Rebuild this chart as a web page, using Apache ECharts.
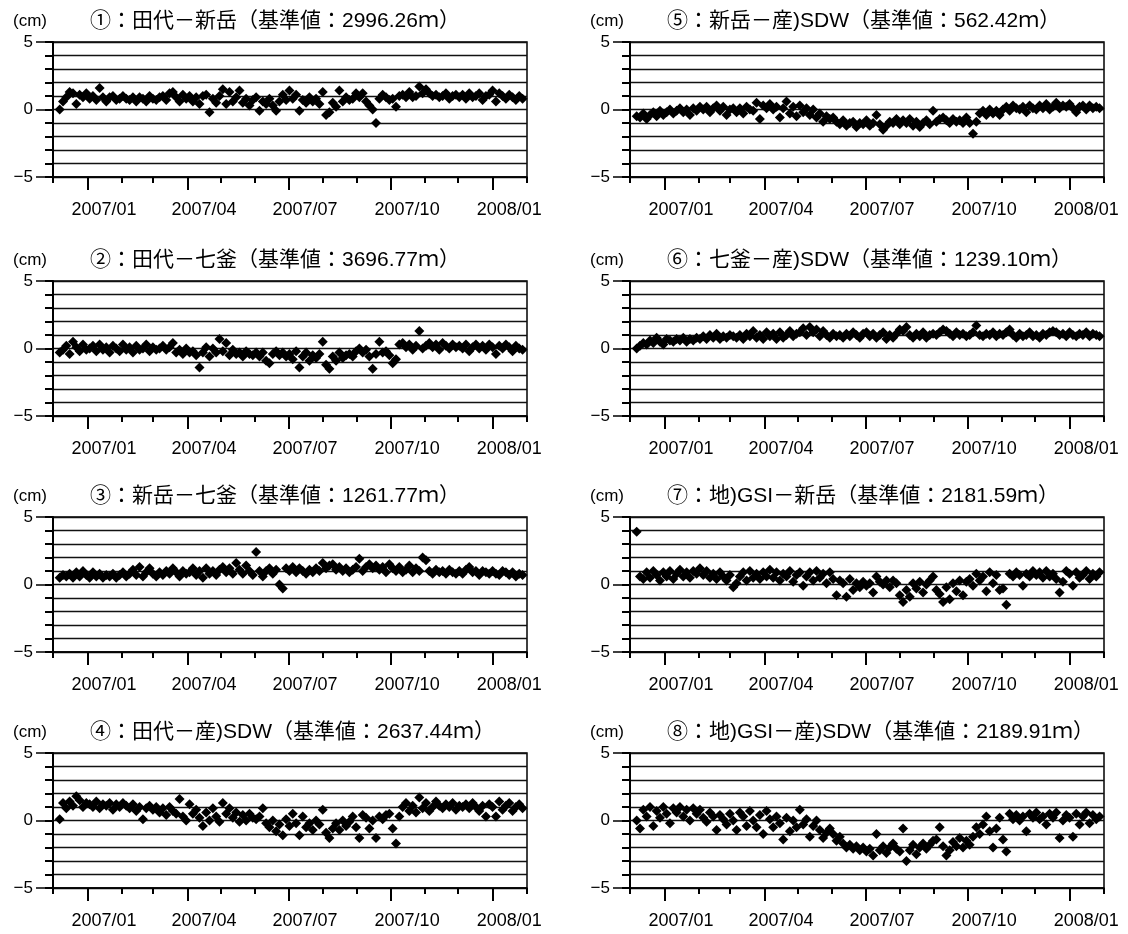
<!DOCTYPE html>
<html>
<head>
<meta charset="utf-8">
<title>基線長変化</title>
<script src="https://cdn.jsdelivr.net/npm/echarts@6/dist/echarts.min.js"></script>
<style>
  html, body { margin: 0; padding: 0; background: #fff; }
  #main { width: 1128px; height: 934px; }
</style>
</head>
<body>
<div id="main"></div>
<script>
// 各基線のタイトル
var titles = [
  '①：田代－新岳（基準値：2996.26ｍ）',
  '②：田代－七釜（基準値：3696.77ｍ）',
  '③：新岳－七釜（基準値：1261.77ｍ）',
  '④：田代－産)SDW（基準値：2637.44ｍ）',
  '⑤：新岳－産)SDW（基準値：562.42ｍ）',
  '⑥：七釜－産)SDW（基準値：1239.10ｍ）',
  '⑦：地)GSI－新岳（基準値：2181.59ｍ）',
  '⑧：地)GSI－産)SDW（基準値：2189.91ｍ）'
];

// 観測値 (cm)：2006/12/07 から 3 日ごと
var s1 = [
  0.0, 0.6, 0.9, 1.3, 1.2, 0.4, 1.1, 0.9, 1.2, 0.8,
  1.0, 0.7, 1.6, 0.9, 0.6, 0.9, 1.0, 0.7, 0.8, 1.0,
  0.8, 0.7, 0.9, 0.6, 0.9, 0.8, 0.6, 1.0, 0.8, 0.7,
  0.9, 1.0, 0.7, 1.2, 1.3, 0.9, 0.6, 1.1, 0.8, 1.0,
  0.6, 0.9, 0.4, 1.0, 1.1, -0.2, 0.8, 0.5, 1.0, 1.5,
  0.4, 1.3, 0.6, 0.9, 1.4, 0.5, 0.8, 0.3, 0.7, 0.9,
  -0.1, 0.6, 0.4, 0.8, 0.3, -0.1, 0.6, 1.1, 0.7, 1.4,
  0.8, 1.1, -0.1, 0.7, 0.5, 0.9, 0.6, 0.8, 0.4, 1.3,
  -0.4, -0.2, 0.5, 0.2, 1.4, 0.6, 0.9, 0.7, 0.8, 1.2,
  0.9, 1.2, 0.6, 0.3, 0.0, -1.0, 0.8, 1.1, 0.9, 0.7,
  0.8, 0.2, 1.0, 1.1, 0.9, 1.3, 0.9, 1.0, 1.7, 1.2,
  1.5, 1.2, 1.0, 1.1, 0.9, 1.0, 1.2, 0.8, 1.0, 1.1,
  0.9, 1.1, 0.8, 1.2, 0.9, 1.0, 1.2, 0.7, 1.0, 1.1,
  1.4, 0.6, 1.2, 1.0, 0.8, 1.1, 0.9, 0.7, 1.0, 0.8
];
var s2 = [
  -0.3, -0.1, 0.2, -0.4, 0.5, 0.1, -0.2, 0.3, -0.1, 0.0,
  0.2, -0.2, 0.3, -0.1, 0.1, -0.3, 0.2, 0.0, -0.2, 0.3,
  -0.1, 0.1, -0.3, 0.2, -0.1, 0.0, 0.3, -0.2, 0.1, -0.1,
  0.0, 0.2, -0.1, 0.1, 0.4, -0.3, -0.1, -0.4, 0.0, -0.3,
  -0.2, -0.5, -1.4, -0.3, 0.1, -0.6, 0.0, -0.3, 0.7, -0.2,
  0.4, -0.5, -0.1, -0.4, -0.3, -0.6, -0.2, -0.4, -0.5, -0.3,
  -0.6, -0.3, -0.9, -1.1, -0.4, -0.2, -0.5, -0.3, -0.6, -0.4,
  -0.8, -0.2, -1.4, -0.6, -0.3, -0.9, -0.5, -0.7, -0.4, 0.5,
  -1.2, -1.5, -0.6, -0.9, -0.3, -0.7, -0.5, -0.4, -0.6, -0.2,
  0.0, -0.3, -0.1, -0.6, -1.5, -0.4, 0.5, -0.3, -0.2, -0.5,
  -1.1, -0.8, 0.3, 0.4, 0.1, 0.3, -0.1, 0.2, 1.3, 0.0,
  0.2, 0.4, 0.1, 0.3, -0.1, 0.4, 0.2, 0.0, 0.3, 0.1,
  0.2, 0.0, 0.3, -0.2, 0.1, 0.3, 0.0, 0.2, -0.1, 0.3,
  0.1, -0.4, 0.2, 0.0, 0.3, 0.1, -0.2, 0.2, 0.0, -0.1
];
var s3 = [
  0.5, 0.7, 0.6, 0.8, 0.5, 0.9, 0.6, 1.0, 0.7, 0.5,
  0.9, 0.6, 0.8, 0.5, 0.7, 0.6, 0.8, 0.5, 0.7, 0.9,
  0.6, 0.8, 1.1, 0.7, 1.3, 0.6, 0.9, 1.2, 0.8, 0.6,
  0.9, 0.7, 1.0, 0.8, 1.2, 0.9, 0.6, 1.0, 0.8, 0.9,
  1.2, 0.7, 1.0, 0.5, 1.2, 0.8, 1.0, 0.7, 1.1, 1.3,
  0.9, 1.2, 0.8, 1.6, 1.1, 0.8, 1.4, 1.0, 0.7, 2.4,
  1.0, 0.6, 1.0, 1.2, 0.8, 1.1, 0.0, -0.3, 1.2, 1.0,
  1.3, 0.9, 1.2, 1.0, 0.8, 1.1, 0.9, 1.2, 1.0, 1.6,
  1.2, 1.4, 1.5, 1.1, 1.3, 1.0, 1.2, 0.9, 1.1, 1.3,
  1.9, 1.0, 1.3, 1.5, 1.2, 1.4, 1.1, 1.3, 0.9, 1.5,
  1.2, 1.0, 1.3, 0.9, 1.1, 1.4, 0.9, 1.2, 1.0, 2.0,
  1.8, 1.0, 0.8, 1.1, 0.9, 1.0, 0.8, 1.1, 0.9, 0.8,
  1.0, 0.8, 1.1, 1.3, 0.9, 1.0, 0.7, 1.0, 0.9, 0.8,
  1.0, 0.8, 0.7, 1.0, 0.9, 0.7, 0.9, 0.6, 0.8, 0.7
];
var s4 = [
  0.1, 1.3, 0.9, 1.4, 1.1, 1.8, 1.5, 1.0, 1.3, 1.2,
  1.0, 1.4, 0.9, 1.2, 1.1, 1.3, 0.8, 1.2, 1.0, 1.3,
  1.1, 0.9, 1.2, 0.7, 1.0, 0.1, 0.9, 1.1, 0.8, 1.0,
  0.6, 0.9, 0.4, 1.0, 0.7, 0.5, 1.6, 0.3, 0.0, 1.2,
  0.5, 0.8, 0.2, -0.4, 0.6, 0.0, 0.9, 0.3, -0.1, 1.3,
  0.5, 0.9, 0.2, 0.6, -0.1, 0.4, 0.0, 0.5, 0.2, 0.1,
  0.3, 0.9, -0.2, -0.5, 0.0, -0.8, -0.3, -1.1, 0.1, -0.4,
  0.5, -0.2, -1.1, 0.3, -0.5, -0.2, -0.7, 0.0, -0.3, 0.8,
  -0.9, -1.3, -0.6, -0.2, -0.7, 0.0, -0.4, -0.1, 0.3, -0.5,
  -1.3, 0.4, 0.2, -0.6, 0.0, -1.3, 0.3, 0.1, 0.4, 0.5,
  -0.6, -1.7, 0.3, 1.0, 1.3, 0.7, 1.1, 0.6, 1.7, 0.9,
  1.3, 0.7, 1.0, 1.4, 1.1, 0.9, 1.2, 1.0, 1.3, 0.8,
  1.1, 1.0, 1.2, 0.9, 1.3, 1.0, 0.7, 1.1, 0.3, 1.2,
  1.0, 0.3, 1.4, 0.8, 1.1, 1.3, 0.7, 1.0, 1.2, 0.9
];
var s5 = [
  -0.5, -0.6, -0.3, -0.7, -0.4, -0.2, -0.5, -0.1, -0.4, -0.2,
  0.0, -0.3, -0.1, 0.1, -0.2, 0.0, -0.4, 0.1, -0.1, 0.2,
  0.0, 0.2, -0.2, 0.1, 0.3, -0.1, 0.2, -0.4, 0.0, 0.1,
  -0.2, 0.1, -0.3, 0.2, 0.0, -0.1, 0.5, -0.7, 0.3, 0.1,
  0.4, 0.0, 0.2, -0.6, 0.1, 0.6, -0.3, 0.2, -0.5, 0.3,
  -0.2, 0.1, -0.4, 0.0, -0.6, -0.3, -0.9, -0.5, -0.7, -0.6,
  -0.9, -1.1, -0.8, -1.2, -1.0, -0.9, -1.3, -1.0, -1.1, -0.8,
  -1.2, -1.0, -0.4, -1.1, -1.5, -1.2, -0.9, -1.0, -0.7, -1.1,
  -0.8, -1.0, -0.7, -1.2, -0.9, -1.3, -1.0, -0.8, -1.1, -0.1,
  -0.9, -0.7, -0.6, -0.8, -1.0, -0.7, -0.9, -0.8, -1.0, -0.6,
  -1.0, -1.8, -0.9, -0.3, -0.1, -0.4, 0.0, -0.3, -0.1, -0.4,
  0.0, 0.2, -0.1, 0.3, 0.1, 0.0, 0.2, -0.2, 0.3, 0.1,
  0.0, 0.3, 0.1, 0.4, 0.0, 0.2, 0.5, 0.1, 0.3, 0.2,
  0.4, 0.1, -0.2, 0.2, 0.3, 0.0, 0.3, 0.1, 0.2, 0.1
];
var s6 = [
  0.0, 0.2, 0.4, 0.3, 0.6, 0.4, 0.8, 0.5, 0.3, 0.7,
  0.6, 0.5, 0.7, 0.6, 0.8, 0.5, 0.7, 0.6, 0.8, 0.7,
  0.9, 0.7, 1.0, 0.8, 1.1, 0.7, 0.9, 0.8, 1.0, 0.9,
  0.8, 1.0, 0.7, 1.1, 0.9, 1.3, 0.8, 1.0, 0.7, 1.2,
  0.9, 1.1, 0.7, 1.2, 0.8, 1.0, 1.3, 0.9, 1.1, 1.2,
  1.5, 1.0, 1.6, 1.2, 1.4, 0.9, 1.3, 1.0, 0.8, 1.1,
  0.9, 1.0, 0.8, 1.1, 0.9, 1.2, 1.0, 0.8, 1.1, 1.2,
  0.9, 1.1, 0.8, 1.0, 1.2, 0.7, 1.0, 0.8, 1.1, 1.4,
  1.3, 1.6, 1.0, 0.8, 1.1, 0.9, 1.2, 0.8, 1.0, 1.1,
  1.0, 1.2, 1.4, 1.3, 1.1, 0.9, 1.2, 1.0, 1.1, 0.9,
  1.0, 1.2, 1.7, 1.0, 0.9, 1.1, 1.0, 1.2, 0.9, 1.1,
  1.0, 1.2, 1.4, 1.0, 0.8, 1.1, 0.9, 1.0, 1.2, 0.9,
  1.0, 0.8, 1.1, 1.0, 1.2, 1.3, 1.2, 1.0, 1.1, 0.9,
  1.2, 1.0, 0.9, 1.1, 1.0, 1.2, 0.9, 1.1, 1.0, 0.9
];
var s7 = [
  3.9, 0.6, 0.4, 0.9, 0.5, 1.0, 0.7, 0.3, 0.9, 0.6,
  1.0, 0.4, 0.8, 1.1, 0.6, 0.9, 0.5, 1.0, 0.8, 1.2,
  0.7, 1.0, 0.5, 0.8, 0.4, 0.9, 0.6, 0.3, 0.7, -0.2,
  0.1, 0.6, 0.9, 0.3, 1.0, 0.5, 0.8, 0.4, 0.9, 0.6,
  1.1, 0.5, 0.9, 0.3, 0.8, 0.6, 1.0, 0.2, 0.7, 0.9,
  -0.1, 0.6, 0.9, 0.3, 1.0, 0.5, 0.8, 0.1, 0.9, 0.4,
  -0.8, 0.3, 0.1, -0.9, 0.4, -0.4, 0.1, -0.2, 0.2, -0.1,
  0.1, -0.6, 0.6, 0.2, 0.0, 0.3, -0.2, 0.3, 0.1, -0.8,
  -1.3, -0.4, -0.9, 0.1, -0.3, 0.2, -0.6, 0.0, 0.3, 0.6,
  -0.4, -0.7, -1.3, -0.2, -1.1, 0.1, -0.5, 0.3, -0.8, 0.2,
  0.4, -0.1, 0.8, 0.3, 0.6, -0.5, 0.9, 0.1, 0.7, -0.4,
  -0.3, -1.5, 0.8, 0.6, 0.9, 0.7, -0.1, 0.8, 0.6, 1.0,
  0.7, 0.9, 0.5, 1.0, 0.6, 0.8, 0.4, -0.6, 0.2, 1.0,
  0.8, -0.1, 0.9, 0.5, 0.7, 1.0, 0.4, 0.8, 0.6, 0.9
];
var s8 = [
  0.0, -0.6, 0.8, 0.3, 1.0, -0.4, 0.7, 0.2, 1.0, 0.5,
  -0.2, 0.9, 0.6, 1.0, 0.3, 0.8, 0.0, 0.9, 0.5, 0.8,
  0.2, -0.1, 0.6, 0.3, -0.7, 0.4, 0.1, -0.3, 0.5, 0.0,
  -0.7, 0.6, 0.3, -0.4, 0.7, 0.0, -0.5, 0.4, -1.0, 0.7,
  0.1, -0.5, 0.3, -0.2, -1.4, 0.2, -0.8, 0.0, -0.5, 0.8,
  -0.3, 0.1, -1.2, -0.4, 0.0, -0.7, -1.3, -0.9, -0.6, -1.0,
  -1.5, -1.2, -1.7, -2.0, -1.8, -2.1, -1.9, -2.2, -2.0, -2.3,
  -2.1, -2.6, -1.0, -2.2, -1.9, -2.4, -2.0, -1.7, -2.1, -2.3,
  -0.6, -3.0, -2.2, -1.8, -2.5, -2.0, -1.7, -2.1, -1.8, -1.5,
  -1.4, -0.5, -1.9, -2.6, -2.2, -1.6, -1.9, -1.3, -2.0, -1.5,
  -1.8, -1.2, -0.5, -1.0, -0.3, 0.3, -0.8, -2.0, -0.6, 0.2,
  -1.4, -2.3, 0.5, 0.1, 0.4, 0.0, 0.3, -0.8, 0.5, 0.2,
  0.6, 0.1, 0.3, -0.3, 0.5, 0.2, 0.6, -1.3, 0.0, 0.4,
  0.2, -1.2, 0.5, -0.3, 0.3, 0.6, -0.2, 0.4, 0.1, 0.3
];
var seriesValues = [s1, s2, s3, s4, s5, s6, s7, s8];

// 目盛り（月初め、四半期、ラベル位置＝月の中ほど）
var monthTicks = ['2006-12-01', '2007-01-01', '2007-02-01', '2007-03-01', '2007-04-01',
  '2007-05-01', '2007-06-01', '2007-07-01', '2007-08-01', '2007-09-01', '2007-10-01',
  '2007-11-01', '2007-12-01', '2008-01-01', '2008-02-01'];
var quarterTicks = ['2007-01-01', '2007-04-01', '2007-07-01', '2007-10-01', '2008-01-01'];
var labelDays = ['2007-01-16', '2007-04-16', '2007-07-16', '2007-10-16', '2008-01-16'];

function toTime(s) {
  var p = s.split('-');
  return new Date(+p[0], +p[1] - 1, +p[2]).getTime();
}
function pad(n) { return n < 10 ? '0' + n : '' + n; }

var FONT = "'Liberation Sans', 'Noto Sans CJK JP', sans-serif";
var xMin = toTime('2006-12-01');
var xMax = toTime('2008-02-01');
var colLeft = [53, 630];
var rowTop = [42, 281, 517, 753];
var plotW = 474, plotH = 135;

var option = {
  animation: false,
  backgroundColor: '#fff',
  title: [], grid: [], xAxis: [], yAxis: [], series: []
};

for (var g = 0; g < 8; g++) {
  var col = g < 4 ? 0 : 1;
  var gx = colLeft[col];
  var gy = rowTop[g % 4];

  option.title.push({
    text: '(cm)', left: col === 0 ? 8 : 585, top: gy - 34,
    textStyle: { fontFamily: FONT, fontSize: 17, fontWeight: 'normal', color: '#000' }
  });
  option.title.push({
    text: titles[g], left: gx + 32, top: gy - 36,
    textStyle: { fontFamily: FONT, fontSize: 21, fontWeight: 'normal', color: '#000' }
  });

  option.grid.push({
    left: gx, top: gy, width: plotW, height: plotH,
    show: true, borderColor: '#000', borderWidth: 1.5
  });

  // 月ごとの短い目盛りとラベル
  option.xAxis.push({
    type: 'value', gridIndex: g, position: 'bottom', min: xMin, max: xMax,
    axisLine: { onZero: false, lineStyle: { color: '#000', width: 1.5 } },
    axisTick: { show: true, length: 6, lineStyle: { color: '#000', width: 2 },
      customValues: monthTicks.map(toTime) },
    axisLabel: {
      customValues: labelDays.map(toTime), margin: 24,
      fontFamily: FONT, fontSize: 18, color: '#000',
      formatter: function (v) {
        var d = new Date(v);
        return d.getFullYear() + '/' + pad(d.getMonth() + 1);
      }
    },
    splitLine: { show: false }
  });
  // 四半期の長い目盛り
  option.xAxis.push({
    type: 'value', gridIndex: g, position: 'bottom', min: xMin, max: xMax,
    axisLine: { show: false, onZero: false },
    axisTick: { show: true, length: 13, lineStyle: { color: '#000', width: 2 },
      customValues: quarterTicks.map(toTime) },
    axisLabel: { show: false },
    splitLine: { show: false }
  });

  option.yAxis.push({
    type: 'value', gridIndex: g, position: 'left', min: -5, max: 5, interval: 1,
    axisLine: { show: true, onZero: false, lineStyle: { color: '#000', width: 2 } },
    axisTick: { show: true, length: 8, lineStyle: { color: '#000', width: 2 } },
    axisLabel: { show: false },
    splitLine: { show: true, lineStyle: { color: '#111', width: 1.3 } }
  });
  option.yAxis.push({
    type: 'value', gridIndex: g, position: 'left', min: -5, max: 5, interval: 5,
    axisLine: { show: false, onZero: false },
    axisTick: { show: true, length: 17, lineStyle: { color: '#000', width: 1.5 } },
    axisLabel: {
      margin: 20, fontFamily: FONT, fontSize: 17, color: '#000',
      formatter: function (v) { return v < 0 ? '\u2212' + (-v) : '' + v; }
    },
    splitLine: { show: false }
  });

  option.series.push({
    type: 'scatter',
    xAxisIndex: 2 * g, yAxisIndex: 2 * g,
    symbol: 'diamond', symbolSize: 10,
    itemStyle: { color: '#000', opacity: 1 },
    data: seriesValues[g].map(function (v, i) {
      return [new Date(2006, 11, 7 + 3 * i).getTime(), v];
    })
  });
}

var myChart = echarts.init(document.getElementById('main'));
myChart.setOption(option);
</script>
</body>
</html>
